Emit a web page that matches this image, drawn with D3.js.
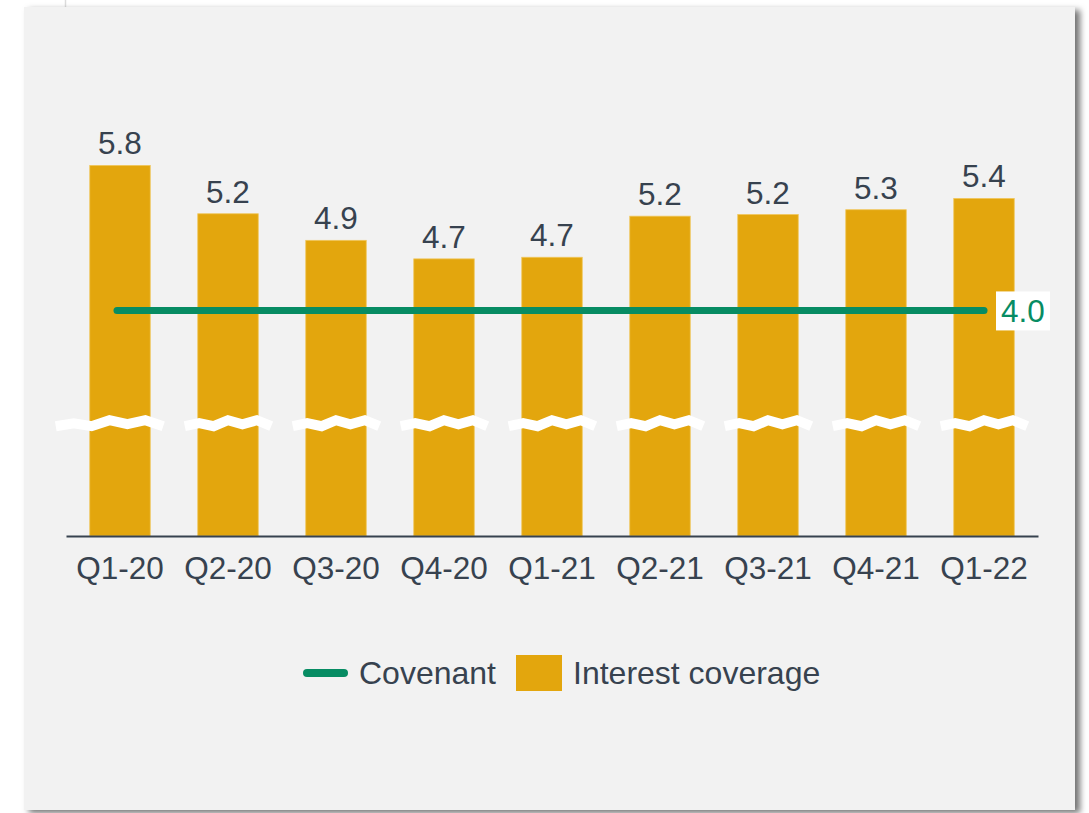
<!DOCTYPE html>
<html lang="en">
<head>
    <meta charset="UTF-8">
    <title>Interest coverage vs covenant</title>
    <script src="https://d3js.org/d3.v7.min.js"></script>
    <style>
        * { margin: 0; padding: 0; box-sizing: border-box; }
        body { background: #ffffff; font-family: "Liberation Sans", Arial, sans-serif; }
        svg { display: block; }
    </style>
</head>
<body>
    <svg id="chart" width="1089" height="813"></svg>

    <script>
        // data
        const quarters = ["Q1-20", "Q2-20", "Q3-20", "Q4-20", "Q1-21", "Q2-21", "Q3-21", "Q4-21", "Q1-22"];
        const coverage = [5.80, 5.20, 4.87, 4.64, 4.66, 5.17, 5.19, 5.25, 5.39];
        const coverageLabels = ["5.8", "5.2", "4.9", "4.7", "4.7", "5.2", "5.2", "5.3", "5.4"];
        const covenant = 4.0;
        const breakValue = 2.6; // where the axis is broken

        const textColor = "#37424f";
        const barColor = "#e3a60d";
        const lineColor = "#078c63";
        const fontSize = 31.5;

        const svg = d3.select("#chart");

        // panel with a soft shadow
        const defs = svg.append("defs");
        defs.append("filter")
            .attr("id", "shadow")
            .attr("x", "-5%").attr("y", "-5%")
            .attr("width", "110%").attr("height", "110%")
            .append("feDropShadow")
            .attr("dx", 5).attr("dy", 3)
            .attr("stdDeviation", 3)
            .attr("flood-color", "#000")
            .attr("flood-opacity", 0.55);

        svg.append("line")
            .attr("x1", 65.5).attr("x2", 65.5)
            .attr("y1", 0).attr("y2", 8)
            .attr("stroke", "#dcdcdc")
            .attr("stroke-width", 1.5);

        svg.append("rect")
            .attr("x", 24).attr("y", 7)
            .attr("width", 1051).attr("height", 803)
            .attr("fill", "#f2f2f2")
            .attr("filter", "url(#shadow)");

        const x = d3.scaleBand()
            .domain(quarters)
            .range([66, 1038])
            .paddingInner(0.44)
            .paddingOuter(0.22);

        const y = d3.scaleLinear()
            .domain([1.2, 6.0])
            .range([536, 536 - 4.8 * 80.56]);

        // bars
        svg.append("g")
            .selectAll("rect")
            .data(coverage)
            .join("rect")
            .attr("x", (d, i) => x(quarters[i]))
            .attr("y", d => y(d))
            .attr("width", x.bandwidth())
            .attr("height", d => y.range()[0] - y(d))
            .attr("fill", barColor)
            .attr("stroke", "#f0c65a")
            .attr("stroke-width", 0.8);

        // value labels
        svg.append("g")
            .selectAll("text")
            .data(coverageLabels)
            .join("text")
            .attr("x", (d, i) => x(quarters[i]) + x.bandwidth() / 2)
            .attr("y", (d, i) => y(coverage[i]) - 11)
            .attr("text-anchor", "middle")
            .attr("font-size", fontSize)
            .attr("fill", textColor)
            .text(d => d);

        // axis break marks
        const zig = [3, 0, 3, -3, 1, -3, 3];
        const breakLine = d3.line();
        svg.append("g")
            .selectAll("path")
            .data(quarters)
            .join("path")
            .attr("d", (q, i) => {
                const x0 = x(q) - (i === 0 ? 34 : 13);
                const x1 = x(q) + x.bandwidth() + 13;
                const yc = y(breakValue);
                return breakLine(zig.map((o, k) => [x0 + (x1 - x0) * k / (zig.length - 1), yc + o]));
            })
            .attr("fill", "none")
            .attr("stroke", "#ffffff")
            .attr("stroke-width", 10)
            .attr("stroke-linejoin", "miter");

        // x axis
        const xAxis = svg.append("g")
            .attr("transform", `translate(0,${y.range()[0]})`)
            .call(d3.axisBottom(x).tickSize(0).tickPadding(0));
        xAxis.select(".domain")
            .attr("stroke", textColor)
            .attr("stroke-width", 2);
        xAxis.selectAll("text")
            .attr("font-family", "'Liberation Sans', Arial, sans-serif")
            .attr("font-size", fontSize)
            .attr("fill", textColor)
            .attr("dy", 0)
            .attr("y", 43);

        // covenant line
        const first = x(quarters[0]) + x.bandwidth() / 2;
        const last = x(quarters[quarters.length - 1]) + x.bandwidth() / 2;
        svg.append("line")
            .attr("x1", first - 3).attr("x2", last)
            .attr("y1", y(covenant)).attr("y2", y(covenant))
            .attr("stroke", lineColor)
            .attr("stroke-width", 7)
            .attr("stroke-linecap", "round");

        svg.append("rect")
            .attr("x", 996).attr("y", y(covenant) - 19)
            .attr("width", 54).attr("height", 39)
            .attr("fill", "#ffffff");

        svg.append("text")
            .attr("x", 1023).attr("y", y(covenant) + 12)
            .attr("text-anchor", "middle")
            .attr("font-size", fontSize)
            .attr("fill", lineColor)
            .text(covenant.toFixed(1));

        // legend
        const legend = svg.append("g");
        legend.append("line")
            .attr("x1", 307).attr("x2", 344)
            .attr("y1", 673).attr("y2", 673)
            .attr("stroke", lineColor)
            .attr("stroke-width", 8)
            .attr("stroke-linecap", "round");
        legend.append("text")
            .attr("x", 359).attr("y", 684)
            .attr("font-size", 32)
            .attr("fill", textColor)
            .text("Covenant");
        legend.append("rect")
            .attr("x", 516).attr("y", 655)
            .attr("width", 46).attr("height", 36)
            .attr("fill", barColor);
        legend.append("text")
            .attr("x", 573).attr("y", 684)
            .attr("font-size", 32)
            .attr("fill", textColor)
            .text("Interest coverage");
    </script>
</body>
</html>
